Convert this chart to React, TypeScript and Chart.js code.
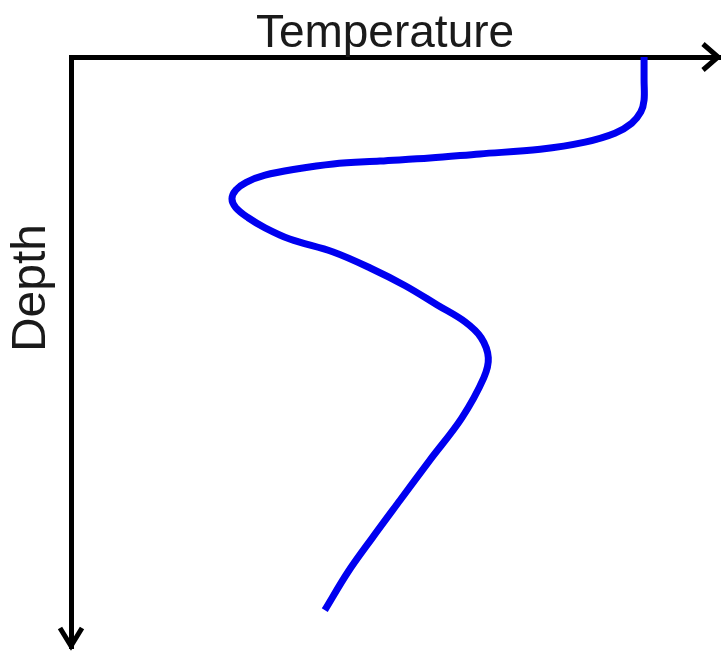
import React, { useEffect, useRef } from "react";
import { Chart, registerables } from "chart.js";

Chart.register(...registerables);

const xTitle = "Temperature";
const yTitle = "Depth";

// Temperature (arbitrary units, 0-100) along the profile
const temperature = [
  88.3, 88.3, 88.3, 87.8, 86.4, 83.8, 79.2, 72.3, 63.0, 55.3, 47.6, 40.4, 34.5,
  29.9, 27.0, 25.4, 24.8, 25.4, 27.3, 29.9, 33.7, 40.4, 46.1, 51.5, 56.5, 60.7,
  63.2, 64.3, 63.6, 60.2, 55.3, 50.7, 46.4, 42.7, 39.1,
];
// Depth (arbitrary units, 0-100, increasing downwards)
const depth = [
  0, 3.9, 7.3, 9.3, 11.2, 12.9, 14.4, 15.6, 16.4, 17.1, 17.6, 18.1, 19.0, 20.0,
  21.2, 22.5, 24.0, 25.5, 27.2, 28.9, 30.8, 33.0, 35.7, 38.7, 42.0, 44.8, 47.5,
  50.9, 54.3, 61.1, 68.2, 75.0, 81.4, 87.1, 93.6,
];

const axisPlugin = {
  id: "axisArrowsAndLabels",
  afterDraw(chart: any) {
    const { ctx } = chart;
    const xs = chart.scales.x;
    const ys = chart.scales.y;
    const left = xs.left;
    const right = xs.right;
    const top = ys.top;
    const bottom = ys.bottom;
    ctx.save();
    ctx.strokeStyle = "#000";
    ctx.lineWidth = 5;
    ctx.lineJoin = "miter";
    ctx.lineCap = "butt";
    // right arrow head
    ctx.beginPath();
    ctx.moveTo(right - 17, top - 13);
    ctx.lineTo(right - 2, top);
    ctx.lineTo(right - 17, top + 13);
    ctx.stroke();
    // bottom arrow head
    ctx.beginPath();
    ctx.moveTo(left - 11, bottom - 20);
    ctx.lineTo(left, bottom - 2);
    ctx.lineTo(left + 11, bottom - 20);
    ctx.stroke();

    ctx.fillStyle = "#1a1a1a";
    ctx.font = "46px 'Liberation Sans', Arial, sans-serif";
    ctx.textAlign = "center";
    ctx.textBaseline = "alphabetic";
    ctx.fillText(xTitle, 385, 47);

    ctx.translate(45, 288);
    ctx.rotate(-Math.PI / 2);
    ctx.font = "48px 'Liberation Sans', Arial, sans-serif";
    ctx.fillText(yTitle, 0, 0);
    ctx.restore();
  },
};

export default function App() {
  const ref = useRef<HTMLCanvasElement | null>(null);
  useEffect(() => {
    if (!ref.current) return;
    const points = temperature.map((t, i) => ({ x: t, y: depth[i] }));
    const chart = new Chart(ref.current, {
      type: "scatter",
      data: {
        datasets: [
          {
            data: points,
            showLine: true,
            borderColor: "#0000f0",
            borderWidth: 7,
            pointRadius: 0,
            tension: 0.35,
            fill: false,
          },
        ],
      },
      options: {
        animation: false,
        responsive: false,
        layout: { padding: { left: 71, top: 57, right: 1, bottom: 3 } },
        plugins: {
          legend: { display: false },
          tooltip: { enabled: false },
          title: { display: false },
        },
        scales: {
          x: {
            type: "linear",
            position: "top",
            min: 0,
            max: 100,
            ticks: { display: false },
            grid: { display: false, drawTicks: false },
            border: { display: true, color: "#000", width: 5 },
            title: { display: false },
          },
          y: {
            type: "linear",
            position: "left",
            reverse: true,
            min: 0,
            max: 100,
            ticks: { display: false },
            grid: { display: false, drawTicks: false },
            border: { display: true, color: "#000", width: 5 },
            title: { display: false },
          },
        },
      },
      plugins: [axisPlugin],
    });
    return () => chart.destroy();
  }, []);
  return (
    <div style={{ position: "absolute", left: 0, top: 0, width: 721, height: 651, background: "#fff" }}>
      <canvas ref={ref} width={721} height={651} style={{ display: "block" }} />
    </div>
  );
}
